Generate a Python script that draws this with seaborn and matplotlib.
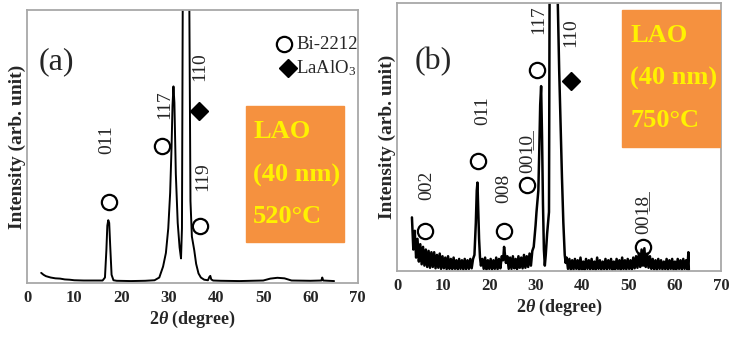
import numpy as np
import matplotlib
matplotlib.use("Agg")
import matplotlib.pyplot as plt
from matplotlib.patches import Rectangle
import seaborn as sns

# ---- panel (a): LAO 40 nm, 520 C ----
a_2theta = [3.0, 3.5, 4.0, 5.0, 6.0, 7.0, 8.0, 9.0, 10.0, 12.0, 14.0, 16.0, 16.5, 16.8,
            17.0, 17.2, 17.4, 17.6, 17.9, 18.3, 19.0, 22.0, 25.0, 27.0, 28.0, 28.8, 29.4,
            29.9, 30.3, 30.6, 30.8, 31.0, 31.2, 31.5, 31.9, 32.3, 32.6, 32.8, 33.0, 33.2,
            33.6, 34.0, 34.3, 34.6, 34.9, 35.1, 35.4, 35.8, 36.3, 36.8, 37.5, 38.3, 38.6,
            38.8, 39.0, 39.4, 41.0, 45.0, 50.0, 51.5, 53.0, 54.5, 56.0, 60.0, 62.3, 62.5,
            62.7, 65.0]
a_int = [3.7, 3.0, 2.5, 2.0, 1.7, 1.6, 1.3, 1.2, 1.0, 0.9, 0.9, 0.9, 2.0, 12.0,
         21.0, 23.0, 22.0, 14.0, 3.0, 1.0, 0.8, 0.7, 0.8, 1.0, 2.0, 6.0, 11.0,
         20.0, 33.0, 50.0, 65.0, 72.0, 66.0, 40.0, 22.0, 13.0, 9.0, 20.0, 120.0, 200.0,
         200.0, 200.0, 120.0, 30.0, 17.0, 15.0, 12.0, 7.0, 3.5, 2.0, 1.2, 1.0, 2.2,
         2.6, 1.3, 0.9, 0.8, 0.7, 0.9, 1.6, 1.9, 1.7, 0.9, 0.8, 0.9, 2.0,
         0.9, 0.7]

# ---- panel (b): LAO 40 nm, 750 C ----
b_2theta = [3.2, 3.5, 3.8, 4.1, 4.4, 4.7, 5.0, 5.3, 5.6, 5.9, 6.2, 6.5, 6.8, 7.1, 7.4,
            7.7, 8.0, 8.3, 8.6, 8.9, 9.2, 9.5, 9.8, 10.1, 10.4, 10.7, 11.0, 11.3, 11.6,
            11.9, 12.2, 12.5, 12.8, 13.1, 13.4, 13.7, 14.0, 14.3, 14.6, 14.9, 15.2, 15.5,
            15.8, 16.1, 16.4,
            16.7, 17.0, 17.2, 17.35, 17.5, 17.7, 17.9, 18.1,
            18.4, 18.7, 19.0, 19.3, 19.6, 19.9, 20.2, 20.5, 20.8, 21.1, 21.4, 21.7, 22.0,
            22.3, 22.6, 22.9, 23.1, 23.3, 23.5,
            23.8, 24.1, 24.4, 24.7, 25.0, 25.3, 25.6, 25.9, 26.2, 26.5, 26.8, 27.1, 27.4,
            27.7, 28.0, 28.3, 28.6, 28.9, 29.2,
            29.5, 29.7, 29.9, 30.1, 30.3, 30.5, 30.7, 30.9, 31.1, 31.3, 31.5, 31.7, 31.9,
            32.1, 32.4, 32.6, 32.8, 33.0, 33.5, 34.0, 34.5, 34.7, 35.0, 35.3, 35.6, 35.9,
            36.2, 36.4,
            36.6, 36.9, 37.2, 37.5, 37.8, 38.1, 38.4, 38.7, 39.0, 39.3, 39.6, 39.9, 40.2,
            40.5, 40.8, 41.1, 41.4, 41.7, 42.0, 42.3, 42.6, 42.9, 43.2, 43.5, 43.8, 44.1,
            44.4, 44.7, 45.0, 45.3, 45.6, 45.9, 46.2, 46.5, 46.8, 47.1, 47.4, 47.7, 48.0,
            48.3, 48.6, 48.9, 49.2, 49.5, 49.8, 50.1, 50.4, 50.7, 51.0, 51.3, 51.6, 51.9,
            52.2, 52.5, 52.8, 53.1, 53.4, 53.7, 54.0, 54.3, 54.6, 54.9, 55.2, 55.5, 55.8,
            56.1, 56.4, 56.7, 57.0, 57.3, 57.6, 57.9, 58.2, 58.5, 58.8, 59.1, 59.4, 59.7,
            60.0, 60.3, 60.6, 60.9, 61.2, 61.5, 61.8, 62.1, 62.4, 62.7, 62.9, 63.0]
b_int = [20, 8, 15, 5, 12, 3.5, 10, 2.5, 9, 2, 8, 1.5, 7.5, 1.2, 7,
         1.5, 7, 1, 6, 1.2, 6.5, 0.8, 5.5, 1, 5, 0.7, 5.5, 0.8, 4.5,
         0.7, 5, 0.8, 4, 0.6, 4.5, 0.8, 4, 0.6, 4.5, 0.7, 4, 0.8,
         4.5, 1, 4.5,
         6, 18, 30, 33, 24, 12, 5, 2,
         4.5, 0.8, 5, 0.6, 4, 0.8, 4.5, 0.6, 4, 0.8, 5, 0.7, 4.5,
         1, 5.5, 4, 9, 6, 3,
         5.5, 0.8, 5, 0.8, 5.5, 1, 4.5, 0.7, 5.5, 1.2, 5, 1, 6,
         1.2, 5.5, 1.5, 6.5, 2, 7.5,
         9, 13, 17, 22, 26, 30, 45, 62, 69, 50, 25, 8, 2,
         6, 14, 18, 22, 150, 200, 200, 150, 100, 75, 55, 35, 18,
         6, 3,
         5, 0.8, 4.5, 0.5, 4, 0.6, 4.5, 0.8, 4, 0.5, 5, 0.6, 3.5,
         0.5, 4.5, 0.8, 4, 0.6, 4.5, 0.7, 3.5, 0.5, 5, 0.8, 4, 0.5,
         3.5, 0.7, 4.5, 0.6, 4, 0.8, 4.5, 0.5, 3.5, 0.6, 4.5, 0.8, 4,
         0.5, 5, 0.7, 4, 0.6, 4.5, 0.8, 4, 0.6, 5, 1, 5.5, 1.2,
         6.5, 1.5, 8, 2, 8.5, 1.5, 6.5, 1.2, 5.5, 0.8, 4.5, 0.6, 4,
         0.5, 4.5, 0.8, 4, 0.6, 3.5, 0.7, 4.5, 0.5, 4, 0.8, 4.5, 0.6,
         3.5, 0.6, 4.5, 0.8, 4, 0.5, 4.5, 0.8, 4, 0.6, 7, 0.5]

# peak markers / labels (2theta, height)
a_bi_x = [17.3, 28.5, 36.7]
a_bi_y = [29.5, 50.0, 21.0]
a_lao_x = [36.5]
a_lao_y = [63.0]
a_labels = ["011", "117", "110", "119"]
a_label_x = [16.9, 29.1, 36.5, 37.1]
a_label_y = [52.6, 65.4, 79.4, 39.0]

b_bi_x = [6.0, 17.5, 23.1, 28.1, 30.3, 53.1]
b_bi_y = [15.0, 41.0, 15.0, 32.0, 75.0, 9.0]
b_lao_x = [37.6]
b_lao_y = [71.0]
b_labels = ["002", "011", "008", "001\u03320\u0332", "117", "110", "001\u03328\u0332"]
b_label_x = [6.5, 18.4, 23.1, 28.1, 30.5, 37.6, 53.0]
b_label_y = [32.0, 60.0, 31.0, 44.0, 94.0, 89.0, 21.0]

ticks = [0, 10, 20, 30, 40, 50, 60, 70]

sns.set_style("white")
plt.rcParams["font.family"] = ["Liberation Serif", "DejaVu Serif"]
plt.rcParams["mathtext.fontset"] = "custom"
plt.rcParams["mathtext.rm"] = "Liberation Serif"
plt.rcParams["mathtext.it"] = "Liberation Serif:italic:bold"
plt.rcParams["mathtext.bf"] = "Liberation Serif:bold"

fig = plt.figure(figsize=(7.3, 3.43), dpi=100)
ax_a = fig.add_axes([0.037, 0.175, 0.453, 0.796])
ax_b = fig.add_axes([0.544, 0.210, 0.444, 0.781])

orange = "#f5913f"
yellow = "#fff200"


def style_axes(ax):
    ax.set_xlim(0, 70)
    ax.set_ylim(0, 100)
    ax.set_xticks(ticks)
    ax.set_xticklabels([str(t) for t in ticks], fontsize=12, fontweight="bold")
    ax.set_yticks([])
    ax.tick_params(axis="x", length=0, pad=5)
    for s in ax.spines.values():
        s.set_color("#a8a8a8")
        s.set_linewidth(1.3)
    ax.set_xlabel(r"2$\it{\theta}$ (degree)", fontsize=13, fontweight="bold", labelpad=2)
    ax.set_ylabel("Intensity (arb. unit)", fontsize=14, fontweight="bold", labelpad=1)


def circles(ax, xs, ys):
    ax.plot(xs, ys, "o", ms=11, mfc="none", mec="black", mew=1.6, clip_on=False)


def diamonds(ax, xs, ys):
    ax.plot(xs, ys, "D", ms=9, color="black", clip_on=False)


# (a)
sns.lineplot(x=a_2theta, y=a_int, ax=ax_a, color="black", lw=1.4, sort=False, estimator=None)
style_axes(ax_a)
circles(ax_a, a_bi_x, a_bi_y)
diamonds(ax_a, a_lao_x, a_lao_y)
for t, x, y in zip(a_labels, a_label_x, a_label_y):
    ax_a.text(x, y, t, rotation=90, ha="center", va="center", fontsize=14)
ax_a.text(6.3, 81, "(a)", fontsize=23, ha="center", va="center")
ax_a.plot([54.5], [87.5], "o", ms=11, mfc="none", mec="black", mew=1.6)
ax_a.text(57.0, 87.5, "Bi-2212", fontsize=13.5, va="center")
ax_a.plot([55.2], [78.7], "D", ms=9, color="black")
ax_a.text(57.0, 78.7, "LaAlO$_3$", fontsize=13.5, va="center")
ax_a.add_patch(Rectangle((46.3, 15), 20.9, 50, color=orange, zorder=3))
for t, y in zip(["LAO", "(40 nm)", "520°C"], [55.5, 39.5, 24.5]):
    ax_a.text(47.9, y, t, color=yellow, fontsize=19, fontweight="bold", va="center", zorder=4)

# (b)
sns.lineplot(x=b_2theta, y=b_int, ax=ax_b, color="black", lw=1.8, sort=False, estimator=None)
style_axes(ax_b)
circles(ax_b, b_bi_x, b_bi_y)
diamonds(ax_b, b_lao_x, b_lao_y)
for t, x, y in zip(b_labels, b_label_x, b_label_y):
    ax_b.text(x, y, t, rotation=90, ha="center", va="center", fontsize=14)
ax_b.text(7.8, 78, "(b)", fontsize=23, ha="center", va="center")
ax_b.add_patch(Rectangle((48.6, 46.3), 21.1, 51.1, color=orange, zorder=3))
for t, y in zip(["LAO", "(40 nm)", "750°C"], [88.0, 72.0, 56.0]):
    ax_b.text(50.3, y, t, color=yellow, fontsize=19, fontweight="bold", va="center", zorder=4)

fig.savefig("out.png", dpi=100)
